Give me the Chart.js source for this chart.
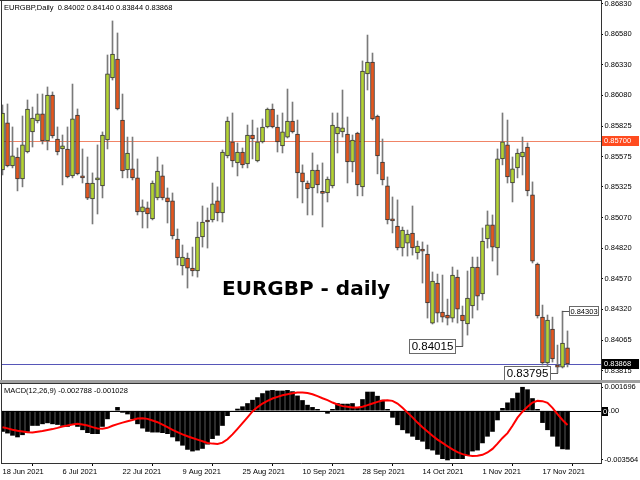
<!DOCTYPE html>
<html>
<head>
<meta charset="utf-8">
<title>EURGBP Daily</title>
<script src="https://cdn.jsdelivr.net/npm/chart.js@4.4.1/dist/chart.umd.min.js"></script>
<style>
html,body{margin:0;padding:0;background:#ffffff;overflow:hidden;}
#wrap{position:relative;width:640px;height:480px;background:#ffffff;}
canvas{position:absolute;left:0;display:block;}
#price{top:0;}
#sep{position:absolute;left:0;top:380px;width:640px;height:3px;background:#a0a0a0;}
#macd{top:383px;}
</style>
</head>
<body>
<div id="wrap">
<canvas id="price" width="640" height="380"></canvas>
<div id="sep"></div>
<canvas id="macd" width="640" height="97"></canvas>
</div>
<script>
// ---------- DATA ----------
const symbolName = "EURGBP,Daily";
const titleText = "EURGBP - daily";
const tickDates = ["18 Jun 2021","6 Jul 2021","22 Jul 2021","9 Aug 2021","25 Aug 2021","10 Sep 2021","28 Sep 2021","14 Oct 2021","1 Nov 2021","17 Nov 2021"];
const tickBars = [0,12,24,36,48,60,72,84,96,108];
const priceTicks = [0.86830,0.86580,0.86330,0.86080,0.85825,0.85575,0.85325,0.85070,0.84820,0.84570,0.84320,0.84065,0.83815];
const macdTicks = [0.001696, 0, -0.003564];

const opens = [
0.85464,0.85851,0.85497,0.85571,0.85390,0.85612,0.85777,0.85867,0.85925,0.85703,
0.86081,0.85719,0.85637,0.85637,0.85415,0.85916,0.85415,0.85357,0.85226,0.85382,
0.85333,0.85711,0.86221,0.86377,0.85875,0.85464,0.85473,0.85399,0.85119,0.85152,
0.85061,0.85234,0.85415,0.85234,0.85210,0.84896,0.84674,0.84740,0.84657,0.84633,
0.84913,0.85053,0.85053,0.85210,0.85111,0.85580,0.85695,0.85522,0.85612,0.85514,
0.85752,0.85538,0.85695,0.85818,0.85966,0.85818,0.85662,0.85735,0.85867,0.85760,
0.85440,0.85357,0.85316,0.85464,0.85275,0.85275,0.85333,0.85760,0.85777,0.85760,
0.85530,0.85768,0.85325,0.86254,0.86352,0.85908,0.85530,0.85333,0.85053,0.85003,
0.84822,0.84863,0.84946,0.84781,0.84814,0.84773,0.84205,0.84534,0.84296,0.84271,
0.84246,0.84583,0.84271,0.84197,0.84345,0.84666,0.84444,0.84896,0.85012,0.84822,
0.85555,0.85670,0.85357,0.85481,0.85571,0.85653,0.85259,0.84690,0.84254,0.83876,
0.84156,0.83860,0.83843,0.84002];
const highs = [
0.85999,0.86007,0.85818,0.85645,0.85908,0.86040,0.85982,0.86089,0.86089,0.86147,
0.86106,0.85818,0.85752,0.85818,0.86171,0.85966,0.85637,0.85571,0.85440,0.85670,
0.85777,0.86410,0.86690,0.86591,0.86089,0.85735,0.85735,0.85555,0.85218,0.85201,
0.85374,0.85571,0.85506,0.85316,0.85275,0.84979,0.84847,0.84781,0.84830,0.85036,
0.85168,0.85152,0.85357,0.85325,0.85629,0.85900,0.85933,0.85686,0.85645,0.85834,
0.85875,0.85810,0.85884,0.85974,0.86007,0.85916,0.85933,0.86130,0.86023,0.85875,
0.85506,0.85374,0.85604,0.85506,0.85522,0.85407,0.85933,0.85933,0.86122,0.85900,
0.85752,0.85775,0.86361,0.86574,0.86426,0.85916,0.85719,0.85407,0.85242,0.85218,
0.84995,0.84970,0.85168,0.84880,0.84872,0.84847,0.84625,0.84608,0.84600,0.84402,
0.84666,0.84641,0.84345,0.84633,0.84748,0.84748,0.84987,0.85127,0.85094,0.85637,
0.85933,0.85875,0.85571,0.85637,0.85735,0.85687,0.85366,0.84699,0.84353,0.84271,
0.84254,0.84024,0.84303,0.84140];
const lows = [
0.85423,0.85489,0.85481,0.85292,0.85325,0.85604,0.85653,0.85851,0.85678,0.85629,
0.85727,0.85588,0.85341,0.85399,0.85399,0.85423,0.85357,0.85220,0.85020,0.85102,
0.85234,0.85637,0.86204,0.85958,0.85399,0.85399,0.85382,0.85094,0.84987,0.84987,
0.85053,0.85218,0.85218,0.85028,0.84896,0.84682,0.84600,0.84493,0.84592,0.84583,
0.84830,0.84822,0.85036,0.85045,0.85036,0.85563,0.85489,0.85415,0.85481,0.85481,
0.85555,0.85530,0.85686,0.85810,0.85810,0.85612,0.85604,0.85727,0.85768,0.85234,
0.85193,0.85094,0.85094,0.85275,0.84995,0.85201,0.85316,0.85604,0.85735,0.85357,
0.85448,0.85251,0.85251,0.86122,0.85875,0.85432,0.85341,0.85020,0.84946,0.84806,
0.84756,0.84756,0.84764,0.84731,0.84534,0.84246,0.84197,0.84213,0.84213,0.84189,
0.84213,0.84205,0.84015,0.84106,0.84246,0.84312,0.84394,0.84822,0.84715,0.84600,
0.85506,0.85357,0.85201,0.85399,0.85423,0.85251,0.84699,0.84246,0.83860,0.83818,
0.83884,0.83795,0.83835,0.83844];
const closes = [
0.85933,0.85497,0.85580,0.85390,0.85670,0.85966,0.85892,0.85925,0.85703,0.86081,
0.85744,0.85612,0.85662,0.85407,0.85884,0.85432,0.85399,0.85232,0.85357,0.85399,
0.85752,0.86254,0.86418,0.85966,0.85456,0.85604,0.85399,0.85119,0.85160,0.85102,
0.85357,0.85456,0.85234,0.85201,0.84921,0.84740,0.84748,0.84657,0.84633,0.84913,
0.85036,0.85036,0.85185,0.85111,0.85612,0.85867,0.85538,0.85612,0.85506,0.85752,
0.85719,0.85695,0.85818,0.85966,0.85818,0.85695,0.85777,0.85867,0.85777,0.85440,
0.85366,0.85308,0.85464,0.85341,0.85272,0.85390,0.85834,0.85818,0.85810,0.85530,
0.85711,0.85341,0.86278,0.86352,0.85884,0.85580,0.85382,0.85053,0.85045,0.84822,
0.84970,0.84937,0.84822,0.84839,0.84797,0.84370,0.84551,0.84287,0.84254,0.84246,
0.84600,0.84320,0.84222,0.84411,0.84666,0.84427,0.84880,0.85012,0.84830,0.85555,
0.85695,0.85407,0.85473,0.85604,0.85612,0.85292,0.84715,0.84263,0.83876,0.84230,
0.83909,0.83843,0.84041,0.83868];

const macdMain = [
-0.00150,-0.00162,-0.00178,-0.00190,-0.00174,-0.00150,-0.00107,-0.00107,-0.00095,-0.00088,
-0.00095,-0.00100,-0.00107,-0.00114,-0.00100,-0.00114,-0.00138,-0.00159,-0.00166,-0.00166,
-0.00114,-0.00059,-0.00005,0.00024,-0.00012,-0.00024,-0.00059,-0.00095,-0.00126,-0.00150,
-0.00155,-0.00155,-0.00159,-0.00166,-0.00190,-0.00219,-0.00250,-0.00280,-0.00292,-0.00285,
-0.00273,-0.00242,-0.00202,-0.00178,-0.00107,-0.00036,-0.00005,0.00012,0.00029,0.00052,
0.00076,0.00095,0.00124,0.00143,0.00147,0.00143,0.00143,0.00147,0.00138,0.00107,
0.00074,0.00040,0.00024,0.00010,-0.00007,-0.00019,0.00010,0.00052,0.00048,0.00048,
0.00052,0.00024,0.00081,0.00135,0.00135,0.00105,0.00076,0.00010,-0.00048,-0.00102,
-0.00138,-0.00162,-0.00185,-0.00209,-0.00221,-0.00276,-0.00285,-0.00316,-0.00347,-0.003564,
-0.00347,-0.00347,-0.00347,-0.00323,-0.00292,-0.00285,-0.00233,-0.00185,-0.00150,-0.00067,
0.00017,0.00057,0.00088,0.00128,0.001696,0.00152,0.00088,0.00010,-0.00086,-0.00138,
-0.00185,-0.00257,-0.00276,-0.002788];
const macdSignal = [
-0.00119,-0.00128,-0.00138,-0.00145,-0.00150,-0.00155,-0.00157,-0.00152,-0.00147,-0.00140,
-0.00133,-0.00124,-0.00114,-0.00107,-0.00100,-0.00095,-0.00100,-0.00107,-0.00119,-0.00128,
-0.00131,-0.00124,-0.00109,-0.00097,-0.00086,-0.00076,-0.00067,-0.00057,-0.00055,-0.00059,
-0.00071,-0.00083,-0.00100,-0.00119,-0.00138,-0.00155,-0.00171,-0.00185,-0.00197,-0.00209,
-0.00221,-0.00233,-0.00238,-0.00240,-0.00231,-0.00207,-0.00171,-0.00131,-0.00090,-0.00048,
-0.00005,0.00026,0.00052,0.00071,0.00088,0.00100,0.00112,0.00119,0.00126,0.00131,
0.00131,0.00128,0.00119,0.00105,0.00090,0.00076,0.00059,0.00045,0.00033,0.00029,
0.00024,0.00024,0.00029,0.00040,0.00052,0.00064,0.00074,0.00076,0.00071,0.00052,
0.00021,-0.00014,-0.00048,-0.00086,-0.00119,-0.00150,-0.00181,-0.00209,-0.00233,-0.00257,
-0.00280,-0.00300,-0.00314,-0.00323,-0.00328,-0.00326,-0.00319,-0.00302,-0.00276,-0.00238,
-0.00197,-0.00162,-0.00109,-0.00050,-0.00007,0.00029,0.00059,0.00071,0.00069,0.00057,
0.00021,-0.00024,-0.00067,-0.001028];

const refLevel = 0.85700;   // horizontal line (orange)
const bidLevel = 0.83868;   // current bid line (blue)
const markBars   = [92, 111, 112];
const markPrices = [0.84015, 0.83795, 0.84303];

// ---------- STYLE ----------
const FONT = '"Liberation Sans", Arial, sans-serif';
const BULL = '#b4d334';
const BEAR = '#e4571f';
const EDGE = '#333333';
const WICK = '#7a7a7a';
const FRAME = '#333333';

const bars = opens.map((_, i) => i);
const bodyColors = bars.map(i => closes[i] >= opens[i] ? BULL : BEAR);
const last = bars.length - 1;
const header = symbolName + "  " + [opens[last], highs[last], lows[last], closes[last]].map(v => v.toFixed(5)).join(" ");
const macdHeader = "MACD(12,26,9) " + macdMain[last].toFixed(6) + " " + macdSignal[last].toFixed(6);

const levelBoxes = [
  {value: refLevel, line: '#f08466', bg: '#ff4b1f', fg: '#ffffff'},
  {value: bidLevel, line: '#5656b8', bg: '#000000', fg: '#ffffff'}
];
const markStyles = [
  {side: 'left', w: 47, h: 15, size: 11.5},
  {side: 'left', w: 47, h: 15, size: 11.5},
  {side: 'right', w: 30, h: 10, size: 7.5}
];

const mainDecor = {
  id: 'mainDecor',
  beforeDatasetsDraw(chart) {
    const {ctx, chartArea: a, scales: {y}} = chart;
    ctx.save();
    levelBoxes.forEach(lv => {
      const py = Math.round(y.getPixelForValue(lv.value));
      ctx.fillStyle = lv.line;
      ctx.fillRect(a.left, py, a.right - a.left, 1);
    });
    ctx.restore();
  },
  afterDraw(chart) {
    const {ctx, chartArea: a, scales: {x, y}} = chart;
    ctx.save();
    ctx.fillStyle = FRAME;
    ctx.fillRect(0, 0, a.right + 1, 1);
    ctx.fillRect(1, 0, 1, chart.height);
    ctx.fillStyle = '#000';
    ctx.textAlign = 'left';
    ctx.textBaseline = 'middle';
    ctx.font = '7.5px ' + FONT;
    ctx.fillText(header, 4, 8);
    ctx.font = 'bold 20px "DejaVu Sans", sans-serif';
    ctx.textBaseline = 'alphabetic';
    ctx.fillText(titleText, 222, 295);
    // price marks
    markBars.forEach((b, k) => {
      const st = markStyles[k];
      const cx = x.getPixelForValue(b);
      const py = Math.round(y.getPixelForValue(markPrices[k]));
      let L;
      ctx.fillStyle = '#555';
      if (st.side === 'left') {
        L = Math.round(cx - 6.5 - st.w);
        ctx.fillRect(L + st.w, py, Math.round(cx - (L + st.w)), 1);
      } else {
        L = Math.round(cx + 6.5);
        ctx.fillRect(Math.floor(cx), py, L - Math.floor(cx), 1);
      }
      const T = py - Math.floor(st.h / 2);
      ctx.fillStyle = '#fff';
      ctx.fillRect(L, T, st.w, st.h);
      ctx.strokeStyle = '#6a6a6a';
      ctx.lineWidth = 1;
      ctx.strokeRect(L + 0.5, T + 0.5, st.w - 1, st.h - 1);
      ctx.fillStyle = '#000';
      ctx.font = st.size + 'px ' + FONT;
      ctx.textAlign = 'center';
      ctx.textBaseline = 'middle';
      ctx.fillText(markPrices[k].toFixed(5), L + st.w / 2, T + st.h / 2 + 0.5);
    });
    // level boxes on the price axis
    levelBoxes.forEach(lv => {
      const py = Math.round(y.getPixelForValue(lv.value));
      ctx.fillStyle = lv.bg;
      ctx.fillRect(a.right + 1, py - 5, 37, 10);
      ctx.fillStyle = lv.fg;
      ctx.font = '7.5px ' + FONT;
      ctx.textAlign = 'left';
      ctx.textBaseline = 'middle';
      ctx.fillText(lv.value.toFixed(5), a.right + 3, py);
    });
    ctx.restore();
  }
};

const macdDecor = {
  id: 'macdDecor',
  beforeDatasetsDraw(chart) {
    const {ctx, chartArea: a, scales: {y}} = chart;
    const py = Math.round(y.getPixelForValue(0));
    ctx.save();
    ctx.fillStyle = '#000';
    ctx.fillRect(a.left, py, a.right - a.left, 1);
    ctx.restore();
  },
  afterDraw(chart) {
    const {ctx, chartArea: a, scales: {y}} = chart;
    ctx.save();
    ctx.fillStyle = FRAME;
    ctx.fillRect(0, 0, a.right + 1, 1);
    ctx.fillRect(1, 0, 1, a.bottom);
    ctx.fillStyle = '#000';
    ctx.font = '7.5px ' + FONT;
    ctx.textAlign = 'left';
    ctx.textBaseline = 'middle';
    ctx.fillText(macdHeader, 4, 8);
    const py = Math.round(y.getPixelForValue(0));
    ctx.fillRect(a.right + 1, py - 4, 6, 9);
    ctx.fillStyle = '#fff';
    ctx.fillText('0', a.right + 2, py + 0.5);
    ctx.restore();
  }
};

const tickFont = {family: FONT, size: 7.5};
const xWindow = {min: -0.3, max: 119.7};

new Chart(document.getElementById('price'), {
  type: 'bar',
  data: {
    datasets: [
      {label: 'body', data: bars.map(i => ({x: i, y: [opens[i], closes[i]]})),
       backgroundColor: bodyColors, borderColor: EDGE, borderWidth: 1, borderSkipped: false,
       barThickness: 4, minBarLength: 2, grouped: false, order: 0},
      {label: 'wick', data: bars.map(i => ({x: i, y: [lows[i], highs[i]]})),
       backgroundColor: WICK, borderWidth: 0, barThickness: 1, grouped: false, order: 1}
    ]
  },
  options: {
    responsive: false, animation: false, devicePixelRatio: 1, events: [],
    layout: {padding: {left: 1, top: 1, right: 0, bottom: 0}, autoPadding: false},
    plugins: {legend: {display: false}, tooltip: {enabled: false}},
    scales: {
      x: {type: 'linear', min: xWindow.min, max: xWindow.max, offset: false, display: false},
      y: {type: 'linear', position: 'right', min: 0.837365, max: 0.868541,
          afterBuildTicks: s => { s.ticks = priceTicks.map(v => ({value: v})); },
          afterFit: s => { s.width = 39; s.paddingTop = 0; s.paddingBottom = 0; },
          grid: {drawOnChartArea: false, drawTicks: true, tickLength: 2, color: '#000'},
          border: {display: true, color: FRAME},
          ticks: {autoSkip: false, padding: 1.5, color: '#000', font: tickFont, callback: v => v.toFixed(5)}}
    }
  },
  plugins: [mainDecor]
});

new Chart(document.getElementById('macd'), {
  type: 'bar',
  data: {
    datasets: [
      {type: 'line', label: 'signal', data: bars.map(i => ({x: i, y: macdSignal[i]})),
       borderColor: '#ff0000', borderWidth: 2, pointRadius: 0, tension: 0, fill: false, order: 0},
      {type: 'bar', label: 'macd', data: bars.map(i => ({x: i, y: macdMain[i]})),
       backgroundColor: '#000000', borderWidth: 0, barThickness: 4, grouped: false, order: 1}
    ]
  },
  options: {
    responsive: false, animation: false, devicePixelRatio: 1, events: [],
    layout: {padding: {left: 1, top: 0, right: 0, bottom: 0}, autoPadding: false},
    plugins: {legend: {display: false}, tooltip: {enabled: false}},
    scales: {
      x: {type: 'linear', min: xWindow.min, max: xWindow.max, offset: false,
          afterBuildTicks: s => { s.ticks = tickBars.map(v => ({value: v})); },
          afterFit: s => { s.height = 17; s.paddingLeft = 0; s.paddingRight = 0; },
          grid: {drawOnChartArea: false, drawTicks: true, tickLength: 3, color: '#000'},
          border: {display: true, color: FRAME},
          ticks: {autoSkip: false, maxRotation: 0, minRotation: 0, align: 'start', padding: 1,
                  color: '#000', font: tickFont, callback: (v, idx) => tickDates[idx]}},
      y: {type: 'linear', position: 'right', min: -0.0037813, max: 0.0020027,
          afterBuildTicks: s => { s.ticks = macdTicks.map(v => ({value: v})); },
          afterFit: s => { s.width = 39; s.paddingTop = 0; s.paddingBottom = 0; },
          grid: {drawOnChartArea: false, drawTicks: true, tickLength: 2, color: '#000'},
          border: {display: true, color: FRAME},
          ticks: {autoSkip: false, padding: 1.5, color: '#000', font: tickFont,
                  callback: v => v === 0 ? '0.00' : v.toFixed(6)}}
    }
  },
  plugins: [macdDecor]
});
</script>
</body>
</html>
